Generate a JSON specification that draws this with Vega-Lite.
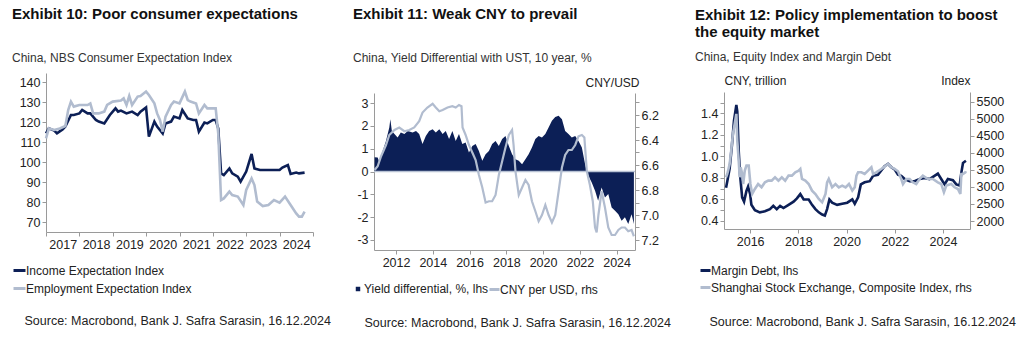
{
  "$schema": "https://vega.github.io/schema/vega-lite/v6.json",
  "padding": {"left": 12, "top": 6, "right": 0, "bottom": 0},
  "spacing": 21,
  "background": "white",
  "resolve": {"scale": {"stroke": "independent", "fill": "independent"}, "legend": {"stroke": "independent", "fill": "independent"}},
  "config": {
    "font": "Liberation Sans",
    "view": {"stroke": null},
    "axis": {"domainColor": "#9a9a9a", "tickColor": "#9a9a9a", "labelColor": "#222222", "labelFontSize": 12.5, "labelFont": "Liberation Sans", "tickSize": 4, "labelPadding": 2, "grid": false, "labelOverlap": false, "labelFlush": false, "titleFont": "Liberation Sans", "titleFontWeight": "normal", "titleFontSize": 12, "titleColor": "#222222"},
    "legend": {"labelFont": "Liberation Sans", "labelFontSize": 12, "labelColor": "#222222", "title": null, "labelLimit": 0, "padding": 0},
    "title": {"font": "Liberation Sans", "fontSize": 15, "fontWeight": "bold", "color": "#111111", "subtitleFont": "Liberation Sans", "subtitleFontSize": 12, "subtitleColor": "#333333", "anchor": "start", "frame": "group"}
  },
  "datasets": {
    "blank": [{"t": ""}],
    "zero": [{"z": 0}],
    "income": [
      {"date": "2017-01-01", "v": 114.3}, {"date": "2017-02-01", "v": 116.8}, {"date": "2017-04-01", "v": 115.7}, {"date": "2017-05-01", "v": 114.3},
      {"date": "2017-07-01", "v": 116.3}, {"date": "2017-08-01", "v": 117.7}, {"date": "2017-10-01", "v": 123.5}, {"date": "2017-11-01", "v": 123.5},
      {"date": "2018-01-01", "v": 124.3}, {"date": "2018-02-01", "v": 126}, {"date": "2018-04-01", "v": 124.3}, {"date": "2018-05-01", "v": 124.3},
      {"date": "2018-07-01", "v": 121}, {"date": "2018-08-01", "v": 120.2}, {"date": "2018-10-01", "v": 119.3}, {"date": "2018-12-01", "v": 123.5},
      {"date": "2019-02-01", "v": 126.8}, {"date": "2019-03-01", "v": 125.2}, {"date": "2019-04-01", "v": 125.7}, {"date": "2019-06-01", "v": 124.3},
      {"date": "2019-08-01", "v": 125.2}, {"date": "2019-10-01", "v": 123.5}, {"date": "2019-11-01", "v": 125.2}, {"date": "2020-01-01", "v": 127.3},
      {"date": "2020-02-01", "v": 112.7}, {"date": "2020-04-01", "v": 120.2}, {"date": "2020-05-01", "v": 117.7}, {"date": "2020-07-01", "v": 114.3},
      {"date": "2020-08-01", "v": 119.3}, {"date": "2020-10-01", "v": 120.2}, {"date": "2020-11-01", "v": 122.7}, {"date": "2021-01-01", "v": 121.8},
      {"date": "2021-02-01", "v": 126}, {"date": "2021-04-01", "v": 121.8}, {"date": "2021-06-01", "v": 121}, {"date": "2021-07-01", "v": 121},
      {"date": "2021-08-01", "v": 115.2}, {"date": "2021-10-01", "v": 119.7}, {"date": "2021-11-01", "v": 119.3}, {"date": "2022-01-01", "v": 121},
      {"date": "2022-02-01", "v": 121}, {"date": "2022-03-01", "v": 116.8}, {"date": "2022-04-01", "v": 94.3}, {"date": "2022-05-01", "v": 93.5},
      {"date": "2022-07-01", "v": 96.8}, {"date": "2022-08-01", "v": 94.3}, {"date": "2022-10-01", "v": 92.7}, {"date": "2022-11-01", "v": 90.2},
      {"date": "2023-01-01", "v": 95.2}, {"date": "2023-03-01", "v": 104}, {"date": "2023-04-01", "v": 96.8}, {"date": "2023-06-01", "v": 96},
      {"date": "2023-08-01", "v": 96}, {"date": "2023-11-01", "v": 96}, {"date": "2024-01-01", "v": 96}, {"date": "2024-02-01", "v": 97.2},
      {"date": "2024-04-01", "v": 98.5}, {"date": "2024-05-01", "v": 94}, {"date": "2024-07-01", "v": 94.7}, {"date": "2024-08-01", "v": 94.3},
      {"date": "2024-10-01", "v": 94.7}
    ],
    "employment": [
      {"date": "2017-01-01", "v": 111.8}, {"date": "2017-02-01", "v": 116.8}, {"date": "2017-04-01", "v": 116}, {"date": "2017-06-01", "v": 116.8},
      {"date": "2017-08-01", "v": 118}, {"date": "2017-09-01", "v": 126}, {"date": "2017-10-01", "v": 130.2}, {"date": "2017-11-01", "v": 127.7},
      {"date": "2018-01-01", "v": 128.5}, {"date": "2018-04-01", "v": 128.5}, {"date": "2018-05-01", "v": 129.3}, {"date": "2018-06-01", "v": 124.3},
      {"date": "2018-08-01", "v": 124.3}, {"date": "2018-10-01", "v": 125.2}, {"date": "2018-11-01", "v": 128.5}, {"date": "2019-01-01", "v": 130.2},
      {"date": "2019-04-01", "v": 130.7}, {"date": "2019-05-01", "v": 131.8}, {"date": "2019-06-01", "v": 128.5}, {"date": "2019-07-01", "v": 133},
      {"date": "2019-08-01", "v": 128.5}, {"date": "2019-10-01", "v": 132.7}, {"date": "2019-11-01", "v": 133}, {"date": "2020-01-01", "v": 135.2},
      {"date": "2020-02-01", "v": 133.5}, {"date": "2020-04-01", "v": 129.3}, {"date": "2020-05-01", "v": 124.3}, {"date": "2020-06-01", "v": 121},
      {"date": "2020-07-01", "v": 115.2}, {"date": "2020-08-01", "v": 122.7}, {"date": "2020-10-01", "v": 128.5}, {"date": "2020-11-01", "v": 130.2},
      {"date": "2021-01-01", "v": 129.3}, {"date": "2021-03-01", "v": 135.2}, {"date": "2021-04-01", "v": 131}, {"date": "2021-05-01", "v": 130.2},
      {"date": "2021-07-01", "v": 129.3}, {"date": "2021-08-01", "v": 124.3}, {"date": "2021-10-01", "v": 128.5}, {"date": "2021-11-01", "v": 126.8},
      {"date": "2022-01-01", "v": 126.8}, {"date": "2022-02-01", "v": 126.8}, {"date": "2022-03-01", "v": 114.3}, {"date": "2022-04-01", "v": 81},
      {"date": "2022-05-01", "v": 81.8}, {"date": "2022-07-01", "v": 85.2}, {"date": "2022-08-01", "v": 83.5}, {"date": "2022-10-01", "v": 82.7},
      {"date": "2022-12-01", "v": 78.5}, {"date": "2023-01-01", "v": 86}, {"date": "2023-03-01", "v": 91.8}, {"date": "2023-04-01", "v": 88.5},
      {"date": "2023-05-01", "v": 80.2}, {"date": "2023-07-01", "v": 78}, {"date": "2023-09-01", "v": 78.5}, {"date": "2023-11-01", "v": 81},
      {"date": "2024-01-01", "v": 79.7}, {"date": "2024-03-01", "v": 82.7}, {"date": "2024-05-01", "v": 78.5}, {"date": "2024-07-01", "v": 74.3},
      {"date": "2024-08-01", "v": 72.7}, {"date": "2024-09-01", "v": 72.7}, {"date": "2024-10-01", "v": 75.2}
    ],
    "yield": [
      {"date": "2010-11-01", "v": 0.62}, {"date": "2011-01-01", "v": 0.61}, {"date": "2011-02-05", "v": 0.39}, {"date": "2011-04-10", "v": 0.9},
      {"date": "2011-06-15", "v": 1.34}, {"date": "2011-08-20", "v": 1.93}, {"date": "2011-09-10", "v": 2.29}, {"date": "2011-10-10", "v": 1.78},
      {"date": "2011-12-01", "v": 1.64}, {"date": "2012-02-01", "v": 1.49}, {"date": "2012-04-05", "v": 1.71}, {"date": "2012-06-15", "v": 1.64},
      {"date": "2012-08-20", "v": 1.78}, {"date": "2012-11-25", "v": 1.71}, {"date": "2013-02-01", "v": 1.78}, {"date": "2013-04-05", "v": 1.64},
      {"date": "2013-06-10", "v": 1.2}, {"date": "2013-08-15", "v": 1.56}, {"date": "2013-10-20", "v": 1.78}, {"date": "2013-12-28", "v": 1.85},
      {"date": "2014-03-01", "v": 1.71}, {"date": "2014-05-10", "v": 1.85}, {"date": "2014-07-15", "v": 1.64}, {"date": "2014-09-15", "v": 1.78},
      {"date": "2014-11-20", "v": 1.42}, {"date": "2015-01-25", "v": 1.78}, {"date": "2015-04-01", "v": 1.34}, {"date": "2015-06-05", "v": 1.64},
      {"date": "2015-08-10", "v": 1.2}, {"date": "2015-10-15", "v": 1.27}, {"date": "2015-12-20", "v": 0.83}, {"date": "2016-02-25", "v": 1.12},
      {"date": "2016-05-01", "v": 1.2}, {"date": "2016-07-05", "v": 0.9}, {"date": "2016-09-10", "v": 0.47}, {"date": "2016-11-15", "v": 0.76},
      {"date": "2017-01-20", "v": 0.9}, {"date": "2017-03-25", "v": 1.2}, {"date": "2017-06-01", "v": 1.34}, {"date": "2017-08-05", "v": 1.12},
      {"date": "2017-10-10", "v": 1.42}, {"date": "2017-12-15", "v": 1.56}, {"date": "2018-02-20", "v": 1.12}, {"date": "2018-04-25", "v": 0.76},
      {"date": "2018-07-01", "v": 0.54}, {"date": "2018-09-05", "v": 0.47}, {"date": "2018-11-10", "v": 0.32}, {"date": "2019-01-15", "v": 0.54},
      {"date": "2019-03-20", "v": 0.76}, {"date": "2019-05-25", "v": 1.05}, {"date": "2019-08-01", "v": 1.42}, {"date": "2019-10-05", "v": 1.56},
      {"date": "2019-12-10", "v": 1.49}, {"date": "2020-02-15", "v": 1.64}, {"date": "2020-04-20", "v": 1.93}, {"date": "2020-06-25", "v": 2.22},
      {"date": "2020-08-30", "v": 2.39}, {"date": "2020-11-05", "v": 2.44}, {"date": "2021-01-10", "v": 2.29}, {"date": "2021-03-15", "v": 1.78},
      {"date": "2021-05-20", "v": 1.64}, {"date": "2021-07-25", "v": 1.49}, {"date": "2021-10-01", "v": 1.56}, {"date": "2021-12-05", "v": 1.34},
      {"date": "2022-02-10", "v": 1.05}, {"date": "2022-04-15", "v": 0.32}, {"date": "2022-05-20", "v": 0.0}, {"date": "2022-06-20", "v": -0.19},
      {"date": "2022-08-25", "v": -0.48}, {"date": "2022-11-01", "v": -0.85}, {"date": "2022-12-30", "v": -1.28}, {"date": "2023-03-10", "v": -0.7},
      {"date": "2023-05-15", "v": -1.14}, {"date": "2023-07-20", "v": -0.99}, {"date": "2023-09-25", "v": -1.58}, {"date": "2023-12-01", "v": -1.72},
      {"date": "2024-02-05", "v": -1.87}, {"date": "2024-04-10", "v": -2.16}, {"date": "2024-06-15", "v": -2.01}, {"date": "2024-08-20", "v": -2.3},
      {"date": "2024-10-25", "v": -1.87}, {"date": "2024-12-10", "v": -2.3}
    ],
    "cny": [
      {"date": "2010-11-01", "v": 6.64}, {"date": "2011-01-01", "v": 6.61}, {"date": "2011-03-10", "v": 6.53}, {"date": "2011-06-15", "v": 6.44},
      {"date": "2011-08-20", "v": 6.36}, {"date": "2011-12-01", "v": 6.32}, {"date": "2012-03-05", "v": 6.30}, {"date": "2012-06-15", "v": 6.33},
      {"date": "2012-09-20", "v": 6.32}, {"date": "2012-12-28", "v": 6.30}, {"date": "2013-04-05", "v": 6.25}, {"date": "2013-06-10", "v": 6.18},
      {"date": "2013-09-15", "v": 6.14}, {"date": "2013-12-28", "v": 6.11}, {"date": "2014-03-01", "v": 6.14}, {"date": "2014-05-10", "v": 6.17},
      {"date": "2014-07-15", "v": 6.16}, {"date": "2014-10-20", "v": 6.14}, {"date": "2015-01-25", "v": 6.13}, {"date": "2015-04-01", "v": 6.14},
      {"date": "2015-06-05", "v": 6.12}, {"date": "2015-07-25", "v": 6.13}, {"date": "2015-08-15", "v": 6.30}, {"date": "2015-10-15", "v": 6.36},
      {"date": "2015-12-20", "v": 6.44}, {"date": "2016-02-25", "v": 6.50}, {"date": "2016-05-01", "v": 6.56}, {"date": "2016-07-05", "v": 6.68},
      {"date": "2016-09-10", "v": 6.78}, {"date": "2016-11-15", "v": 6.90}, {"date": "2017-01-20", "v": 6.89}, {"date": "2017-03-25", "v": 6.89},
      {"date": "2017-06-01", "v": 6.84}, {"date": "2017-08-05", "v": 6.68}, {"date": "2017-10-10", "v": 6.57}, {"date": "2017-12-15", "v": 6.46},
      {"date": "2018-02-20", "v": 6.36}, {"date": "2018-04-25", "v": 6.32}, {"date": "2018-05-25", "v": 6.44}, {"date": "2018-07-01", "v": 6.65},
      {"date": "2018-09-05", "v": 6.84}, {"date": "2018-11-10", "v": 6.78}, {"date": "2019-01-15", "v": 6.72}, {"date": "2019-03-20", "v": 6.76},
      {"date": "2019-05-25", "v": 6.89}, {"date": "2019-08-01", "v": 6.97}, {"date": "2019-10-05", "v": 7.05}, {"date": "2019-12-10", "v": 7.0},
      {"date": "2020-02-15", "v": 6.92}, {"date": "2020-04-20", "v": 7.0}, {"date": "2020-06-25", "v": 7.06}, {"date": "2020-08-30", "v": 7.0},
      {"date": "2020-11-05", "v": 6.81}, {"date": "2021-01-10", "v": 6.62}, {"date": "2021-03-15", "v": 6.52}, {"date": "2021-05-20", "v": 6.48},
      {"date": "2021-07-25", "v": 6.48}, {"date": "2021-10-01", "v": 6.44}, {"date": "2021-12-05", "v": 6.37}, {"date": "2022-02-10", "v": 6.36},
      {"date": "2022-04-01", "v": 6.38}, {"date": "2022-05-20", "v": 6.65}, {"date": "2022-07-20", "v": 6.76}, {"date": "2022-09-15", "v": 6.89},
      {"date": "2022-10-30", "v": 7.10}, {"date": "2022-12-01", "v": 7.14}, {"date": "2023-01-05", "v": 7.0}, {"date": "2023-03-10", "v": 6.81},
      {"date": "2023-05-15", "v": 6.94}, {"date": "2023-07-20", "v": 7.10}, {"date": "2023-09-25", "v": 7.16}, {"date": "2023-12-01", "v": 7.16},
      {"date": "2024-02-05", "v": 7.12}, {"date": "2024-04-10", "v": 7.10}, {"date": "2024-06-15", "v": 7.10}, {"date": "2024-08-20", "v": 7.13},
      {"date": "2024-10-25", "v": 7.12}, {"date": "2024-12-10", "v": 7.17}
    ],
    "margin": [
      {"date": "2015-01-01", "v": 0.71}, {"date": "2015-01-20", "v": 0.77}, {"date": "2015-02-25", "v": 0.89}, {"date": "2015-04-01", "v": 1.11},
      {"date": "2015-05-01", "v": 1.33}, {"date": "2015-06-06", "v": 1.48}, {"date": "2015-06-20", "v": 1.42}, {"date": "2015-07-12", "v": 1.05},
      {"date": "2015-08-01", "v": 0.83}, {"date": "2015-09-02", "v": 0.62}, {"date": "2015-10-01", "v": 0.58}, {"date": "2015-11-06", "v": 0.68},
      {"date": "2015-12-01", "v": 0.72}, {"date": "2016-01-01", "v": 0.65}, {"date": "2016-01-20", "v": 0.55}, {"date": "2016-03-13", "v": 0.50},
      {"date": "2016-05-27", "v": 0.48}, {"date": "2016-08-12", "v": 0.49}, {"date": "2016-10-27", "v": 0.51}, {"date": "2016-12-17", "v": 0.54},
      {"date": "2017-02-07", "v": 0.51}, {"date": "2017-03-30", "v": 0.54}, {"date": "2017-05-20", "v": 0.52}, {"date": "2017-08-05", "v": 0.55},
      {"date": "2017-10-20", "v": 0.58}, {"date": "2017-12-10", "v": 0.61}, {"date": "2018-01-30", "v": 0.65}, {"date": "2018-03-22", "v": 0.60},
      {"date": "2018-06-06", "v": 0.60}, {"date": "2018-07-27", "v": 0.55}, {"date": "2018-09-16", "v": 0.51}, {"date": "2018-11-06", "v": 0.48},
      {"date": "2018-12-27", "v": 0.46}, {"date": "2019-02-06", "v": 0.45}, {"date": "2019-03-12", "v": 0.51}, {"date": "2019-04-16", "v": 0.60},
      {"date": "2019-05-27", "v": 0.57}, {"date": "2019-08-11", "v": 0.55}, {"date": "2019-10-27", "v": 0.56}, {"date": "2020-01-11", "v": 0.57},
      {"date": "2020-03-28", "v": 0.60}, {"date": "2020-05-04", "v": 0.56}, {"date": "2020-06-24", "v": 0.62}, {"date": "2020-08-04", "v": 0.74},
      {"date": "2020-10-01", "v": 0.76}, {"date": "2020-12-17", "v": 0.77}, {"date": "2021-02-06", "v": 0.82}, {"date": "2021-04-20", "v": 0.83},
      {"date": "2021-06-10", "v": 0.87}, {"date": "2021-07-30", "v": 0.91}, {"date": "2021-09-20", "v": 0.93}, {"date": "2021-11-09", "v": 0.90},
      {"date": "2021-12-28", "v": 0.88}, {"date": "2022-02-18", "v": 0.83}, {"date": "2022-04-09", "v": 0.82}, {"date": "2022-05-30", "v": 0.79},
      {"date": "2022-08-14", "v": 0.77}, {"date": "2022-10-27", "v": 0.77}, {"date": "2023-01-11", "v": 0.79}, {"date": "2023-03-28", "v": 0.80},
      {"date": "2023-06-10", "v": 0.79}, {"date": "2023-08-25", "v": 0.82}, {"date": "2023-10-15", "v": 0.84}, {"date": "2023-12-05", "v": 0.79},
      {"date": "2024-01-25", "v": 0.74}, {"date": "2024-03-15", "v": 0.79}, {"date": "2024-05-30", "v": 0.78}, {"date": "2024-07-20", "v": 0.74},
      {"date": "2024-09-09", "v": 0.73}, {"date": "2024-10-05", "v": 0.85}, {"date": "2024-10-30", "v": 0.94}, {"date": "2024-12-13", "v": 0.96}
    ],
    "shanghai": [
      {"date": "2015-01-01", "v": 3284}, {"date": "2015-01-20", "v": 3382}, {"date": "2015-02-25", "v": 3676}, {"date": "2015-03-20", "v": 4069},
      {"date": "2015-04-15", "v": 4559}, {"date": "2015-05-12", "v": 4853}, {"date": "2015-06-06", "v": 5147}, {"date": "2015-06-20", "v": 4363},
      {"date": "2015-07-12", "v": 3774}, {"date": "2015-07-27", "v": 3284}, {"date": "2015-08-11", "v": 3578}, {"date": "2015-09-02", "v": 3382},
      {"date": "2015-09-17", "v": 3088}, {"date": "2015-10-12", "v": 3480}, {"date": "2015-11-06", "v": 3627}, {"date": "2015-12-10", "v": 3627},
      {"date": "2016-01-05", "v": 3088}, {"date": "2016-02-01", "v": 2794}, {"date": "2016-03-13", "v": 2941}, {"date": "2016-05-01", "v": 3088},
      {"date": "2016-06-22", "v": 2990}, {"date": "2016-08-12", "v": 3137}, {"date": "2016-10-02", "v": 3186}, {"date": "2016-11-22", "v": 3186},
      {"date": "2017-01-12", "v": 3284}, {"date": "2017-03-05", "v": 3186}, {"date": "2017-04-25", "v": 3284}, {"date": "2017-06-15", "v": 3186},
      {"date": "2017-08-05", "v": 3333}, {"date": "2017-09-25", "v": 3333}, {"date": "2017-11-15", "v": 3431}, {"date": "2018-01-05", "v": 3480},
      {"date": "2018-01-30", "v": 3529}, {"date": "2018-02-25", "v": 3235}, {"date": "2018-04-16", "v": 3186}, {"date": "2018-06-06", "v": 3088},
      {"date": "2018-07-27", "v": 2892}, {"date": "2018-09-16", "v": 2794}, {"date": "2018-11-06", "v": 2647}, {"date": "2018-12-27", "v": 2549},
      {"date": "2019-02-16", "v": 2794}, {"date": "2019-03-12", "v": 3137}, {"date": "2019-04-06", "v": 3235}, {"date": "2019-05-27", "v": 2990},
      {"date": "2019-07-17", "v": 3088}, {"date": "2019-09-06", "v": 2990}, {"date": "2019-10-27", "v": 3039}, {"date": "2019-12-17", "v": 2990},
      {"date": "2020-02-06", "v": 3088}, {"date": "2020-03-28", "v": 2892}, {"date": "2020-05-04", "v": 2990}, {"date": "2020-05-30", "v": 3333},
      {"date": "2020-06-24", "v": 3431}, {"date": "2020-08-12", "v": 3431}, {"date": "2020-10-01", "v": 3382}, {"date": "2020-11-21", "v": 3480},
      {"date": "2021-01-11", "v": 3578}, {"date": "2021-02-06", "v": 3382}, {"date": "2021-03-26", "v": 3431}, {"date": "2021-06-10", "v": 3529},
      {"date": "2021-07-30", "v": 3598}, {"date": "2021-09-20", "v": 3676}, {"date": "2021-11-09", "v": 3578}, {"date": "2021-12-28", "v": 3529},
      {"date": "2022-02-18", "v": 3461}, {"date": "2022-04-09", "v": 3235}, {"date": "2022-05-05", "v": 3088}, {"date": "2022-06-24", "v": 3235},
      {"date": "2022-08-14", "v": 3235}, {"date": "2022-10-01", "v": 3137}, {"date": "2022-11-21", "v": 3088}, {"date": "2023-01-11", "v": 3235},
      {"date": "2023-03-02", "v": 3333}, {"date": "2023-05-18", "v": 3235}, {"date": "2023-07-31", "v": 3235}, {"date": "2023-10-15", "v": 3137},
      {"date": "2023-12-05", "v": 3088}, {"date": "2024-01-15", "v": 2843}, {"date": "2024-02-20", "v": 3039}, {"date": "2024-05-05", "v": 3088},
      {"date": "2024-06-24", "v": 2990}, {"date": "2024-08-14", "v": 2941}, {"date": "2024-09-20", "v": 2794}, {"date": "2024-10-05", "v": 3382},
      {"date": "2024-10-30", "v": 3382}, {"date": "2024-12-05", "v": 3431}, {"date": "2024-12-13", "v": 3461}
    ]
  },
  "hconcat": [
    {"spacing": 0, "resolve": {"scale": {"stroke": "independent", "fill": "independent"}, "legend": {"stroke": "independent", "fill": "independent"}}, "vconcat": [
      {"width": 1, "height": 1, "data": {"name": "blank"}, "mark": {"type": "point", "size": 0, "strokeWidth": 0, "opacity": 0}},
      {
      "width": 267, "height": 159,
      "title": {"text": "Exhibit 10: Poor consumer expectations", "subtitle": "China, NBS Consumer Expectation Index", "dx": -34, "offset": 9, "subtitlePadding": 31},
      "encoding": {
        "x": {"field": "date", "type": "temporal", "scale": {"type": "utc", "domain": [{"year": 2017, "utc": true}, {"year": 2025, "utc": true}]},
          "axis": {"values": [{"year": 2017, "utc": true}, {"year": 2018, "utc": true}, {"year": 2019, "utc": true}, {"year": 2020, "utc": true}, {"year": 2021, "utc": true}, {"year": 2022, "utc": true}, {"year": 2023, "utc": true}, {"year": 2024, "utc": true}, {"year": 2025, "utc": true}],
            "labelExpr": "utcFormat(datum.value, '%Y') == '2025' ? '' : utcFormat(datum.value, '%Y')", "labelOffset": 16.7,
            "title": "Source: Macrobond, Bank J. Safra Sarasin, 16.12.2024", "titleX": -22, "titleY": 88, "titleAlign": "left", "titleBaseline": "middle", "titleFontSize": 12.5}},
        "y": {"field": "v", "type": "quantitative", "scale": {"domain": [65, 144.5], "nice": false, "zero": false}, "axis": {"values": [70, 80, 90, 100, 110, 120, 130, 140], "title": null}}
      },
      "layer": [
        {
          "data": {"name": "income"},
          "mark": {"type": "line", "strokeWidth": 2.6},
          "encoding": {
            "stroke": {"datum": "Income Expectation Index", "scale": {"domain": ["Income Expectation Index", "Employment Expectation Index"], "range": ["#0c1f56", "#b1bccf"]},
              "legend": {"orient": "none", "legendX": -34, "legendY": 190, "direction": "vertical", "symbolType": "stroke", "symbolSize": 144, "symbolStrokeWidth": 3, "rowPadding": 4, "labelOffset": -1}}
          }
        },
        {
          "data": {"name": "employment"},
          "mark": {"type": "line", "strokeWidth": 2.6},
          "encoding": {"stroke": {"datum": "Employment Expectation Index"}}
        }
      ]
    }]},
    {"spacing": 0, "resolve": {"scale": {"stroke": "independent", "fill": "independent"}, "legend": {"stroke": "independent", "fill": "independent"}}, "vconcat": [
      {"width": 1, "height": 1, "data": {"name": "blank"}, "mark": {"type": "point", "size": 0, "strokeWidth": 0, "opacity": 0}},
      {
      "width": 261, "height": 157,
      "title": {"text": "Exhibit 11: Weak CNY to prevail", "subtitle": "China, Yield Differential with UST, 10 year, %", "dx": -21, "offset": 12, "subtitlePadding": 31},
      "layer": [
        {
          "layer": [
            {
              "data": {"name": "yield"},
              "mark": {"type": "area"},
              "encoding": {
                "x": {"field": "date", "type": "temporal", "scale": {"type": "utc", "domain": [{"year": 2010, "month": 10, "date": 20, "utc": true}, {"year": 2025, "utc": true}]},
                  "axis": {"values": [{"year": 2012, "utc": true}, {"year": 2014, "utc": true}, {"year": 2016, "utc": true}, {"year": 2018, "utc": true}, {"year": 2020, "utc": true}, {"year": 2022, "utc": true}, {"year": 2024, "utc": true}],
                    "format": "%Y",
                    "title": "Source:  Macrobond, Bank J. Safra Sarasin, 16.12.2024", "titleX": -10, "titleY": 72, "titleAlign": "left", "titleBaseline": "middle", "titleFontSize": 12.5}},
                "y": {"field": "v", "type": "quantitative", "scale": {"domain": [-3.44, 3.44], "nice": false, "zero": false}, "axis": {"values": [-3, -2, -1, 0, 1, 2, 3], "labelExpr": "datum.value + ''", "labelOverlap": false, "title": null}},
                "fill": {"datum": "Yield differential, %, lhs", "scale": {"domain": ["Yield differential, %, lhs"], "range": ["#0c1f56"]},
                  "legend": {"orient": "none", "legendX": -22, "legendY": 190, "symbolType": "square", "symbolSize": 20, "labelOffset": 0}}
              }
            },
            {
              "data": {"name": "zero"},
              "mark": {"type": "rule", "color": "#b8c2d4", "strokeWidth": 1.5},
              "encoding": {"y": {"field": "z", "type": "quantitative", "axis": {"values": [-3, -2, -1, 0, 1, 2, 3], "labelExpr": "datum.value + ''", "labelOverlap": false, "title": null}}}
            }
          ]
        },
        {
          "data": {"name": "cny"},
          "mark": {"type": "line", "strokeWidth": 2.2},
          "encoding": {
            "x": {"field": "date", "type": "temporal"},
            "y": {"field": "v", "type": "quantitative", "scale": {"domain": [6.024, 7.28], "nice": false, "zero": false, "reverse": true},
              "axis": {"orient": "right", "values": [6.1, 6.2, 6.3, 6.4, 6.5, 6.6, 6.7, 6.8, 6.9, 7.0, 7.1, 7.2], "labelExpr": "round(datum.value * 10) % 2 == 0 ? format(datum.value, '.1f') : ''",
                "title": "CNY/USD", "titleAngle": 0, "titleAlign": "right", "titleX": 4, "titleY": -11, "titleBaseline": "middle"}},
            "stroke": {"datum": "CNY per USD, rhs", "scale": {"domain": ["CNY per USD, rhs"], "range": ["#b1bccf"]},
              "legend": {"orient": "none", "legendX": 114, "legendY": 190, "symbolType": "stroke", "symbolSize": 100, "symbolStrokeWidth": 3, "labelOffset": -1}}
          }
        }
      ],
      "resolve": {"scale": {"y": "independent"}}
    }]},
    {"spacing": 0, "resolve": {"scale": {"stroke": "independent", "fill": "independent"}, "legend": {"stroke": "independent", "fill": "independent"}}, "vconcat": [
      {"width": 1, "height": 1, "data": {"name": "blank"}, "mark": {"type": "point", "size": 0, "strokeWidth": 0, "opacity": 0}},
      {
      "width": 246, "height": 137,
      "title": {"text": ["Exhibit 12: Policy implementation to boost", "the equity market"], "subtitle": "China, Equity Index and Margin Debt", "dx": -29, "offset": 11.5, "subtitlePadding": 12, "lineHeight": 17},
      "layer": [
        {
          "data": {"name": "margin"},
          "mark": {"type": "line", "strokeWidth": 2.6},
          "encoding": {
            "x": {"field": "date", "type": "temporal", "scale": {"type": "utc", "domain": [{"year": 2014, "month": 12, "date": 1, "utc": true}, {"year": 2025, "month": 2, "date": 13, "utc": true}]},
              "axis": {"values": [{"year": 2016, "utc": true}, {"year": 2018, "utc": true}, {"year": 2020, "utc": true}, {"year": 2022, "utc": true}, {"year": 2024, "utc": true}],
                "format": "%Y",
                "title": "Source:  Macrobond, Bank J. Safra Sarasin, 16.12.2024", "titleX": -15, "titleY": 92, "titleAlign": "left", "titleBaseline": "middle", "titleFontSize": 12.5}},
            "y": {"field": "v", "type": "quantitative", "scale": {"domain": [0.325, 1.6], "nice": false, "zero": false},
              "axis": {"values": [0.4, 0.5, 0.6, 0.7, 0.8, 0.9, 1.0, 1.1, 1.2, 1.3, 1.4, 1.5], "labelExpr": "round(datum.value * 10) % 2 == 0 ? format(datum.value, '.1f') : ''",
                "title": "CNY, trillion", "titleAngle": 0, "titleAlign": "left", "titleX": 0, "titleY": -12, "titleBaseline": "middle"}},
            "stroke": {"datum": "Margin Debt, lhs", "scale": {"domain": ["Margin Debt, lhs", "Shanghai Stock Exchange, Composite Index, rhs"], "range": ["#0c1f56", "#b1bccf"]},
              "legend": {"orient": "none", "legendX": -25, "legendY": 172, "direction": "vertical", "symbolType": "stroke", "symbolSize": 100, "symbolStrokeWidth": 3, "rowPadding": 4, "labelOffset": -1}}
          }
        },
        {
          "data": {"name": "shanghai"},
          "mark": {"type": "line", "strokeWidth": 2.6},
          "encoding": {
            "x": {"field": "date", "type": "temporal"},
            "y": {"field": "v", "type": "quantitative", "scale": {"domain": [1765, 5790], "nice": false, "zero": false},
              "axis": {"orient": "right", "values": [2000, 2500, 3000, 3500, 4000, 4500, 5000, 5500], "format": "d",
                "title": "Index", "titleAngle": 0, "titleAlign": "right", "titleX": 0, "titleY": -12, "titleBaseline": "middle"}},
            "stroke": {"datum": "Shanghai Stock Exchange, Composite Index, rhs"}
          }
        }
      ],
      "resolve": {"scale": {"y": "independent"}}
    }]}
  ]
}
